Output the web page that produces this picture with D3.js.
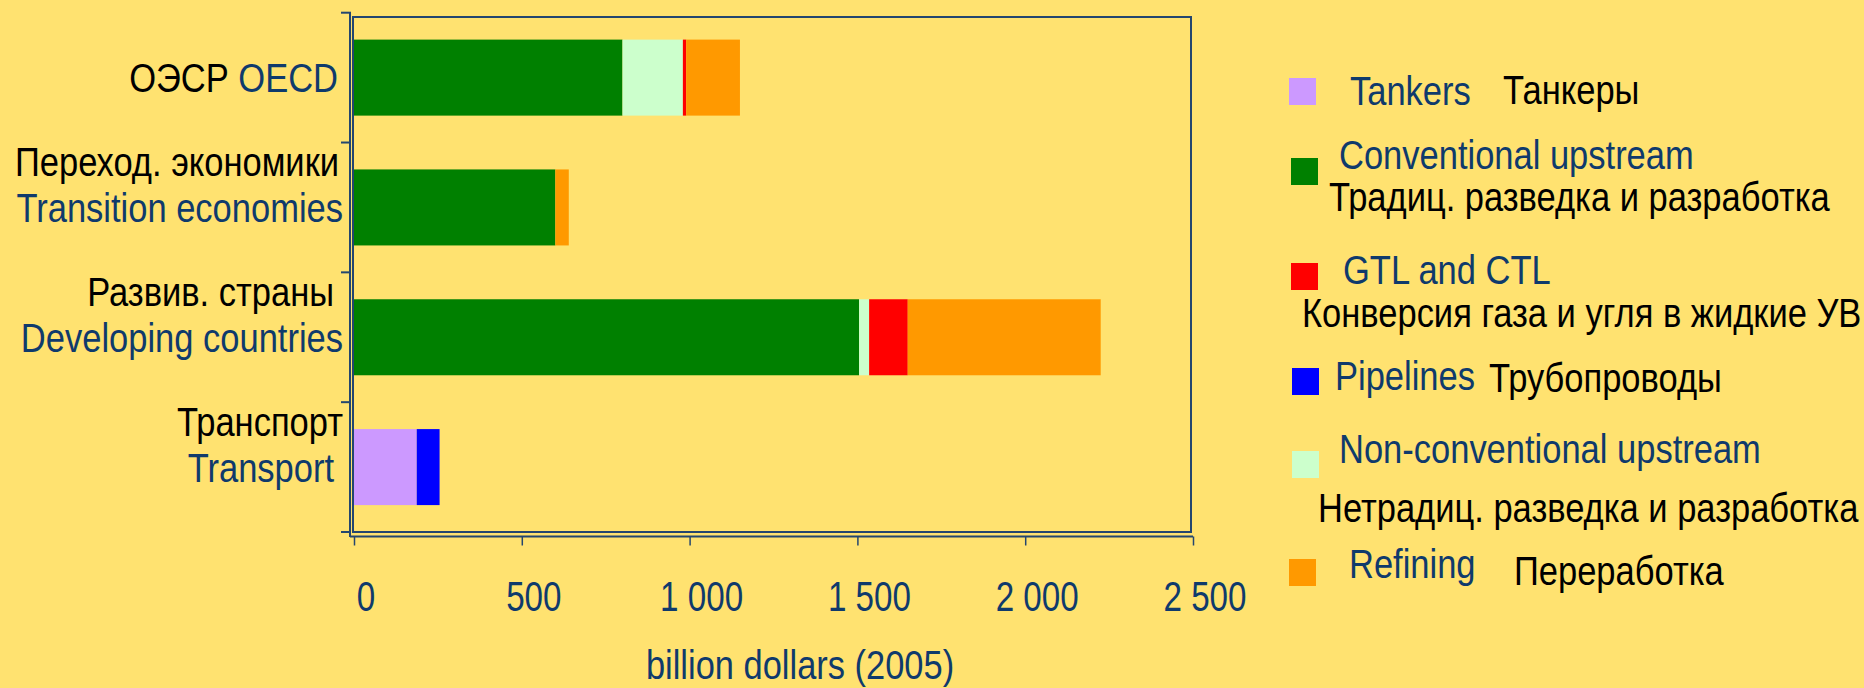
<!DOCTYPE html>
<html>
<head>
<meta charset="utf-8">
<script src="https://cdn.jsdelivr.net/npm/d3@7"></script>
<style>
html,body{margin:0;padding:0;background:#FFE270;}
svg{display:block;}
text{font-family:"Liberation Sans",Arial,sans-serif;}
</style>
</head>
<body>
<svg id="chart" width="1864" height="688"></svg>
<script>
// ---- data ----
const categories = ["OECD", "Transition economies", "Developing countries", "Transport"];
const categoryRu = ["ОЭСР", "Переход. экономики", "Развив. страны", "Транспорт"];
const categoryEn = ["OECD", "Transition economies", "Developing countries", "Transport"];
const conventional    = [800, 600, 1505, 0];
const nonConventional = [180, 0, 30, 0];
const gtlCtl          = [10, 0, 115, 0];
const refining        = [160, 40, 575, 0];
const tankers         = [0, 0, 0, 187];
const pipelines       = [0, 0, 0, 68];
const tickValues = [0, 500, 1000, 1500, 2000, 2500];
const tickLabels = ["0", "500", "1 000", "1 500", "2 000", "2 500"];
const axisTitle = "billion dollars (2005)";
const seriesKeys = ["conventional", "nonConventional", "gtlCtl", "refining", "tankers", "pipelines"];
const seriesColors = ["#008000", "#CCFFCC", "#FF0000", "#FF9900", "#CC99FF", "#0000FF"];
const legendKeys = ["tankers", "conventional", "gtlCtl", "pipelines", "nonConventional", "refining"];
const legendEn = ["Tankers", "Conventional upstream", "GTL and CTL", "Pipelines", "Non-conventional upstream", "Refining"];
const legendRu = ["Танкеры", "Традиц. разведка и разработка", "Конверсия газа и угля в жидкие УВ", "Трубопроводы", "Нетрадиц. разведка и разработка", "Переработка"];

// ---- layout ----
const BLUE = "#0F3A6C", BLACK = "#000000", LINE = "#24466F";
const svg = d3.select("#chart");

const table = categories.map((c, i) => ({
  cat: c,
  conventional: conventional[i], nonConventional: nonConventional[i], gtlCtl: gtlCtl[i],
  refining: refining[i], tankers: tankers[i], pipelines: pipelines[i]
}));
const color = d3.scaleOrdinal().domain(seriesKeys).range(seriesColors);

const x = d3.scaleLinear().domain([0, 2500]).range([354, 1193]);
const y = d3.scaleBand().domain(categories).range([12.7, 532]).paddingInner(0.4145).paddingOuter(0.4145 / 2);

function txt(g, px, py, s, fill, anchor, fs, sx) {
  return g.append("text")
    .attr("transform", `translate(${px},${py}) scale(${sx},1)`)
    .attr("text-anchor", anchor || "start")
    .attr("font-size", fs)
    .attr("fill", fill)
    .text(s);
}
const LFS = 40, LSX = 0.8625;  // labels & legend
const TFS = 42, TSX = 0.79;    // tick labels
const AFS = 41, ASX = 0.84;    // axis title

// frame
svg.append("rect").attr("x", 353).attr("y", 17).attr("width", 1191 - 353).attr("height", 532 - 17)
  .attr("fill", "none").attr("stroke", LINE).attr("stroke-width", 2);

// bars
const stack = d3.stack().keys(seriesKeys)(table);
svg.append("g").selectAll("g").data(stack).join("g")
  .attr("fill", d => color(d.key))
  .selectAll("rect").data(d => d.filter(p => p[1] - p[0] > 0)).join("rect")
  .attr("x", d => x(d[0]))
  .attr("width", d => x(d[1]) - x(d[0]))
  .attr("y", d => y(d.data.cat))
  .attr("height", y.bandwidth());

// y axis (category boundaries)
const yAxisG = svg.append("g");
yAxisG.append("line").attr("x1", 350).attr("x2", 350).attr("y1", y.range()[0]).attr("y2", 537)
  .attr("stroke", LINE).attr("stroke-width", 2);
const bounds = categories.map(c => y(c) - y.step() * y.paddingInner() / 2).concat([y.range()[1]]);
yAxisG.selectAll("line.tk").data(bounds).join("line").attr("class", "tk")
  .attr("x1", 341).attr("x2", 351).attr("y1", d => d).attr("y2", d => d)
  .attr("stroke", LINE).attr("stroke-width", 2);

// x axis
const xAxis = d3.axisBottom(x).tickValues(tickValues).tickSize(9).tickFormat("");
const xg = svg.append("g").attr("transform", "translate(0,536.5)").call(xAxis);
xg.select(".domain").attr("stroke", LINE).attr("stroke-width", 2).attr("d", `M350,0H1193`);
xg.selectAll(".tick line").attr("stroke", LINE).attr("stroke-width", 1.5);
const tl = svg.append("g");
tickValues.forEach((v, i) => txt(tl, x(v) + 12, 611, tickLabels[i], BLUE, "middle", TFS, TSX));
txt(svg, 800, 679, axisTitle, BLUE, "middle", AFS, ASX);

// category labels
const ruEnd = [338, 339, 334, 343];
const enEnd = [338, 343, 343, 334];
const cl = svg.append("g");
categories.forEach((c, i) => {
  const cy = y(c) + y.bandwidth() / 2;
  if (i === 0) {
    const t = cl.append("text")
      .attr("transform", `translate(${enEnd[i]},${cy + 14}) scale(${LSX},1)`)
      .attr("text-anchor", "end").attr("font-size", LFS);
    t.append("tspan").attr("fill", BLACK).text(categoryRu[i] + " ");
    t.append("tspan").attr("fill", BLUE).text(categoryEn[i]);
  } else {
    txt(cl, ruEnd[i], cy - 31, categoryRu[i], BLACK, "end", LFS, LSX);
    txt(cl, enEnd[i], cy + 15, categoryEn[i], BLUE, "end", LFS, LSX);
  }
});

// legend
const legendLayout = [
  {sw: [1289, 78], en: [1350, 105], ru: [1503, 104]},
  {sw: [1291, 158], en: [1339, 169], ru: [1329, 211]},
  {sw: [1291, 263], en: [1343, 284], ru: [1302, 327]},
  {sw: [1292, 368], en: [1335, 390], ru: [1489, 392]},
  {sw: [1292, 451], en: [1339, 463], ru: [1318, 522]},
  {sw: [1289, 559], en: [1349, 578], ru: [1514, 585]}
];
const lg = svg.append("g");
legendKeys.forEach((k, i) => {
  const L = legendLayout[i];
  lg.append("rect").attr("x", L.sw[0]).attr("y", L.sw[1]).attr("width", 27).attr("height", 27)
    .attr("fill", color(k));
  txt(lg, L.en[0], L.en[1], legendEn[i], BLUE, "start", LFS, LSX);
  txt(lg, L.ru[0], L.ru[1], legendRu[i], BLACK, "start", LFS, LSX);
});
</script>
</body>
</html>
